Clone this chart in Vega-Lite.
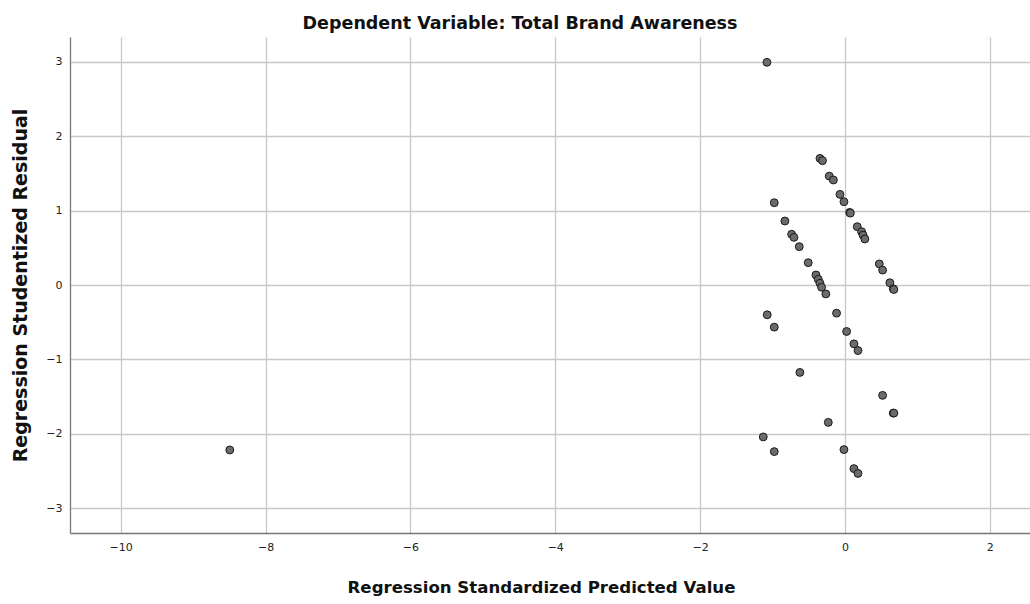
{
  "$schema": "https://vega.github.io/schema/vega-lite/v6.json",
  "width": 960,
  "height": 496,
  "autosize": {"type": "none"},
  "padding": {"left": 70, "top": 37, "right": 0, "bottom": 71},
  "background": "white",
  "title": {
    "text": "Dependent Variable: Total Brand Awareness",
    "font": "DejaVu Sans",
    "fontSize": 17.5,
    "fontWeight": "bold",
    "color": "#111",
    "anchor": "middle",
    "dx": -30,
    "offset": 5
  },
  "data": {
    "values": [
      {"pred": -8.494, "resid": -2.215},
      {"pred": -1.077, "resid": 2.99},
      {"pred": -0.345, "resid": 1.70},
      {"pred": -0.31, "resid": 1.67},
      {"pred": -0.217, "resid": 1.462},
      {"pred": -0.16, "resid": 1.41},
      {"pred": -0.069, "resid": 1.217},
      {"pred": -0.014, "resid": 1.118},
      {"pred": 0.065, "resid": 0.975},
      {"pred": 0.075, "resid": 0.965},
      {"pred": 0.17, "resid": 0.783},
      {"pred": 0.23, "resid": 0.716},
      {"pred": 0.25, "resid": 0.67},
      {"pred": 0.275, "resid": 0.618},
      {"pred": 0.474, "resid": 0.283},
      {"pred": 0.52, "resid": 0.2},
      {"pred": 0.62, "resid": 0.03},
      {"pred": 0.667, "resid": -0.05},
      {"pred": 0.675, "resid": -0.06},
      {"pred": -0.976, "resid": 1.105},
      {"pred": -0.829, "resid": 0.859},
      {"pred": -0.736, "resid": 0.681},
      {"pred": -0.704, "resid": 0.64},
      {"pred": -0.631, "resid": 0.515},
      {"pred": -0.507, "resid": 0.30},
      {"pred": -0.40, "resid": 0.135},
      {"pred": -0.369, "resid": 0.077},
      {"pred": -0.345, "resid": 0.024},
      {"pred": -0.323, "resid": -0.03},
      {"pred": -0.264, "resid": -0.12},
      {"pred": -0.116, "resid": -0.378},
      {"pred": -1.073, "resid": -0.40},
      {"pred": -0.976, "resid": -0.566},
      {"pred": 0.023, "resid": -0.624},
      {"pred": 0.124, "resid": -0.79},
      {"pred": 0.18, "resid": -0.88},
      {"pred": -0.622, "resid": -1.174},
      {"pred": 0.52, "resid": -1.482},
      {"pred": 0.667, "resid": -1.72},
      {"pred": 0.675, "resid": -1.72},
      {"pred": -0.23, "resid": -1.845},
      {"pred": -1.128, "resid": -2.04},
      {"pred": -0.976, "resid": -2.237},
      {"pred": -0.014, "resid": -2.21},
      {"pred": 0.124, "resid": -2.465},
      {"pred": 0.18, "resid": -2.53}
    ]
  },
  "mark": {"type": "point", "filled": true, "fill": "#6b6b6b", "stroke": "#1a1a1a", "strokeWidth": 1, "size": 62, "opacity": 1, "fillOpacity": 1},
  "encoding": {
    "x": {
      "field": "pred",
      "type": "quantitative",
      "scale": {"domain": [-10.70, 2.555], "nice": false, "zero": false},
      "axis": {
        "title": "Regression Standardized Predicted Value",
        "values": [-10, -8, -6, -4, -2, 0, 2],
        "titlePadding": 27,
        "titleX": 471,
        "titleFontSize": 16.6
      }
    },
    "y": {
      "field": "resid",
      "type": "quantitative",
      "scale": {"domain": [-3.33, 3.33], "nice": false, "zero": false},
      "axis": {
        "title": "Regression Studentized Residual",
        "values": [-3, -2, -1, 0, 1, 2, 3],
        "titlePadding": 15,
        "titleFontSize": 19
      }
    }
  },
  "config": {
    "view": {"stroke": null},
    "axis": {
      "ticks": false,
      "grid": true,
      "gridColor": "#c8c8c8",
      "gridWidth": 1.3,
      "domainColor": "#777",
      "domainWidth": 1.3,
      "labelFont": "DejaVu Sans",
      "labelFontSize": 11,
      "labelColor": "#222",
      "labelPadding": 8,
      "titleFont": "DejaVu Sans",
      "titleFontWeight": "bold",
      "titleColor": "#111"
    }
  }
}
